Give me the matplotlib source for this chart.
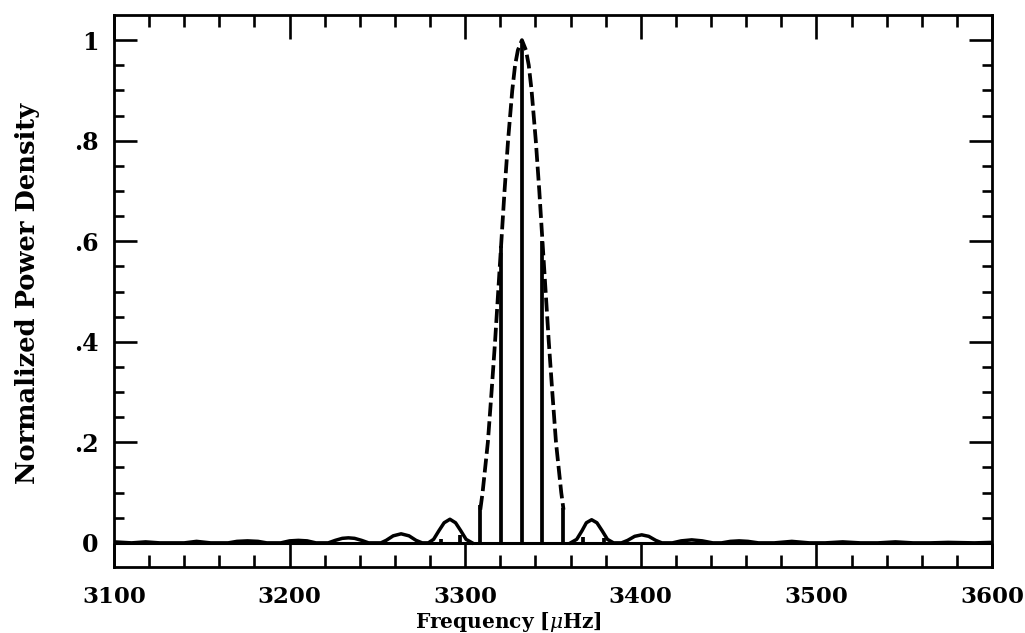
import matplotlib
matplotlib.use("Agg")
import matplotlib.pyplot as plt
from matplotlib.ticker import MultipleLocator, FixedLocator, FixedFormatter

# ---- data ----
# solid side lobes of the window (left of main lobe)
left_freq = [3100, 3110, 3118, 3126, 3140, 3147, 3155, 3165, 3170, 3176, 3182, 3187,
             3195, 3200, 3205, 3210, 3215, 3222, 3226, 3230, 3233.5, 3237, 3241, 3245,
             3252, 3255, 3259, 3263.5, 3268, 3272, 3275.5, 3279, 3282, 3285, 3288,
             3291.3, 3294.5, 3297.5, 3300.5, 3304]
left_power = [0.002, 0.000, 0.002, 0.000, 0.000, 0.003, 0.000, 0.000, 0.003, 0.004, 0.003, 0.000,
              0.000, 0.004, 0.005, 0.004, 0.000, 0.000, 0.005, 0.009, 0.010, 0.009, 0.005, 0.000,
              0.000, 0.005, 0.014, 0.018, 0.014, 0.005, 0.000, 0.000, 0.007, 0.024, 0.040,
              0.047, 0.040, 0.024, 0.007, 0.000]

# solid side lobes (right of main lobe)
right_freq = [3360, 3363.5, 3366.5, 3369, 3372, 3375, 3378, 3381, 3384.5, 3389, 3392.5,
              3396.5, 3400.5, 3404.5, 3408.5, 3412, 3418, 3423, 3429, 3435, 3441, 3446,
              3451, 3456, 3461, 3467, 3476, 3486, 3496, 3505, 3515, 3525, 3535, 3545,
              3555, 3565, 3575, 3590, 3600]
right_power = [0.000, 0.007, 0.024, 0.040, 0.046, 0.040, 0.024, 0.007, 0.000, 0.000, 0.005,
               0.013, 0.016, 0.013, 0.005, 0.000, 0.000, 0.004, 0.006, 0.004, 0.000, 0.000,
               0.003, 0.004, 0.003, 0.000, 0.000, 0.003, 0.000, 0.000, 0.002, 0.000, 0.000, 0.002,
               0.000, 0.000, 0.001, 0.000, 0.001]

# dashed main-lobe envelope
main_freq = [3308.6, 3309.9, 3312.9, 3315.0, 3317.0, 3318.8, 3320.6, 3322.4, 3324.4,
             3326.8, 3328.4, 3330.0, 3332.3, 3334.6, 3336.2, 3337.8, 3340.2, 3342.2,
             3344.0, 3345.8, 3347.6, 3349.6, 3351.7, 3354.7, 3356.0]
main_power = [0.066, 0.10, 0.20, 0.30, 0.40, 0.50, 0.60, 0.70, 0.80,
              0.90, 0.95, 0.98, 1.00, 0.98, 0.95, 0.90, 0.80, 0.70,
              0.60, 0.50, 0.40, 0.30, 0.20, 0.10, 0.066]

# narrow alias spikes (solid)
spike_freq = [3286, 3297.3, 3308.7, 3320.4, 3332.3, 3344.0, 3355.6, 3367.3, 3379]
spike_power = [0.008, 0.015, 0.075, 0.59, 1.0, 0.60, 0.070, 0.012, 0.010]

x_ticks = [3100, 3200, 3300, 3400, 3500, 3600]
x_tick_labels = ["3100", "3200", "3300", "3400", "3500", "3600"]
y_ticks = [0, 0.2, 0.4, 0.6, 0.8, 1.0]
y_tick_labels = ["0", ".2", ".4", ".6", ".8", "1"]

plt.rcParams['font.family'] = ['DejaVu Serif']
plt.rcParams['mathtext.fontset'] = 'dejavuserif'
plt.rcParams['lines.scale_dashes'] = False

W, H = 1025, 633
fig = plt.figure(figsize=(W / 100, H / 100), dpi=100)
ax = fig.add_axes([114 / W, 1 - 567 / H, 878 / W, 552 / H])

lw = 2.5
ax.plot(left_freq, left_power, color='black', lw=lw, solid_joinstyle='round')
ax.plot(right_freq, right_power, color='black', lw=lw, solid_joinstyle='round')
ax.plot(main_freq, main_power, color='black', lw=2.7, dashes=(10, 3.5))
ax.vlines(spike_freq, 0, spike_power, color='black', lw=2.7)
ax.axhline(0, color='black', lw=2.2)

ax.set_xlim(3100, 3600)
ax.set_ylim(-0.048, 1.05)

ax.xaxis.set_major_locator(FixedLocator(x_ticks))
ax.xaxis.set_major_formatter(FixedFormatter(x_tick_labels))
ax.xaxis.set_minor_locator(MultipleLocator(20))
ax.yaxis.set_major_locator(FixedLocator(y_ticks))
ax.yaxis.set_major_formatter(FixedFormatter(y_tick_labels))
ax.yaxis.set_minor_locator(FixedLocator([0.05, 0.1, 0.15, 0.25, 0.3, 0.35, 0.45, 0.5, 0.55,
                                         0.65, 0.7, 0.75, 0.85, 0.9, 0.95]))

for s in ax.spines.values():
    s.set_linewidth(2.0)

ax.tick_params(axis='both', which='both', direction='in', top=True, right=True, width=1.9)
ax.tick_params(axis='x', which='major', length=17, pad=14)
ax.tick_params(axis='x', which='minor', length=8.6)
ax.tick_params(axis='y', which='major', length=16.6, pad=11)
ax.tick_params(axis='y', which='minor', length=7.2)
for lab in ax.get_xticklabels():
    lab.set_fontsize(16.5)
    lab.set_fontweight('bold')
for lab in ax.get_yticklabels():
    lab.set_fontsize(17)
    lab.set_fontweight('bold')

fig.text(508 / W, 1 - 627.5 / H, 'Frequency [$\\mu$Hz]', ha='center', va='baseline',
         fontsize=14.5, fontweight='bold')
fig.text(28 / W, 1 - 293 / H, 'Normalized Power Density', ha='center', va='center',
         rotation=90, fontsize=18.5, fontweight='bold')

fig.savefig('out.png', dpi=100)
